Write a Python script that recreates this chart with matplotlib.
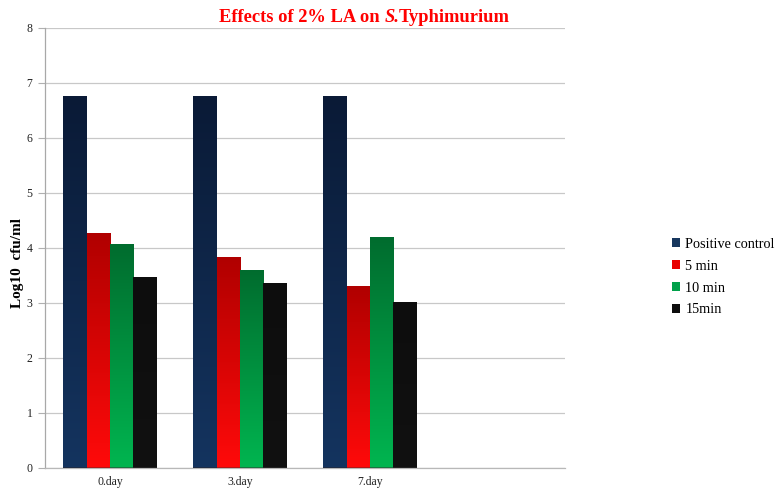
import numpy as np
import matplotlib
matplotlib.use("Agg")
import matplotlib.pyplot as plt
from matplotlib.patches import Patch
from matplotlib.colors import LinearSegmentedColormap

# Data
categories = ["0.day", "3.day", "7.day", ""]
series_names = ["Positive control", "5 min", "10 min", "15min"]
positive_control = [6.76, 6.76, 6.76]
min5 = [4.27, 3.84, 3.30]
min10 = [4.07, 3.59, 4.20]
min15 = [3.47, 3.35, 3.01]
series_values = [positive_control, min5, min10, min15]

# Gradient colours (top, bottom) per series, and legend swatch colour
grad_colors = [("#0a1a36", "#14345f"), ("#b00000", "#ff0a0a"),
               ("#006c2e", "#00b550"), ("#0d0d0d", "#111111")]
swatch_colors = ["#17375e", "#e80000", "#00a04a", "#0d0d0d"]

plt.rcParams["font.family"] = ["Liberation Serif", "DejaVu Serif"]

W, H = 779, 490
fig = plt.figure(figsize=(W / 100, H / 100), dpi=100)
ax = fig.add_axes([45 / W, 1 - 467.5 / H, 520 / W, 439.5 / H])

n_series = len(series_values)
group_w = 0.723
bar_w = group_w / n_series
x = np.arange(len(categories))

for i, (vals, (ctop, cbot)) in enumerate(zip(series_values, grad_colors)):
    pos = x[:len(vals)] - group_w / 2 + bar_w * (i + 0.5)
    bars = ax.bar(pos, vals, width=bar_w, color=ctop, linewidth=0, zorder=2)
    cmap = LinearSegmentedColormap.from_list("g%d" % i, [cbot, ctop])
    grad = np.linspace(0, 1, 256).reshape(-1, 1)
    for b in bars:
        x0, y0 = b.get_x(), b.get_y()
        w, h = b.get_width(), b.get_height()
        im = ax.imshow(grad, cmap=cmap, origin="lower", aspect="auto",
                       extent=[x0, x0 + w, y0, y0 + h], zorder=3)
        im.set_clip_path(b)

ax.set_xlim(-0.5, len(categories) - 0.5)
ax.set_ylim(0, 8)
ax.set_yticks(range(0, 9))
ax.set_xticks(x[:3])
ax.set_xticklabels(categories[:3])
ax.tick_params(axis="x", length=0, labelsize=8.5, pad=6, colors="#222222")
ax.tick_params(axis="y", length=5, width=0.8, color="#b0b0b0",
               labelsize=8.5, pad=4, labelcolor="#222222")
ax.grid(axis="y", color="#c8c8c8", linewidth=0.9, zorder=0)
ax.set_axisbelow(True)
for s in ["top", "right"]:
    ax.spines[s].set_visible(False)
ax.spines["left"].set_color("#a8a8a8")
ax.spines["bottom"].set_color("#b8b8b8")
ax.spines["left"].set_linewidth(0.9)
ax.spines["bottom"].set_linewidth(0.9)

# Y-axis label
fig.text(17.5 / W, 1 - 263.5 / H, "Log10  cfu/ml", rotation=90, fontsize=11,
         fontweight="bold", ha="center", va="center")

# Title built from pieces so the genus abbreviation can be italic
fig.canvas.draw()
renderer = fig.canvas.get_renderer()
pieces = [("Effects of 2% LA on ", "normal"), ("S.", "italic"), ("Typhimurium", "normal")]
xpos = 219 / W
for txt, style in pieces:
    t = fig.text(xpos, 1 - 21.5 / H, txt, color="#ff0000", fontsize=13.3,
                 fontweight="bold", fontstyle=style, ha="left", va="baseline")
    bb = t.get_window_extent(renderer=renderer)
    xpos += bb.width / fig.bbox.width

handles = [Patch(facecolor=c, edgecolor="none") for c in swatch_colors]
fig.legend(handles, series_names, loc="upper left",
           bbox_to_anchor=(659 / W, 1 - 225 / H), frameon=False,
           fontsize=10.3, handlelength=0.6, handleheight=0.6,
           handletextpad=0.35, labelspacing=0.62)

fig.savefig("out.png", dpi=100)
